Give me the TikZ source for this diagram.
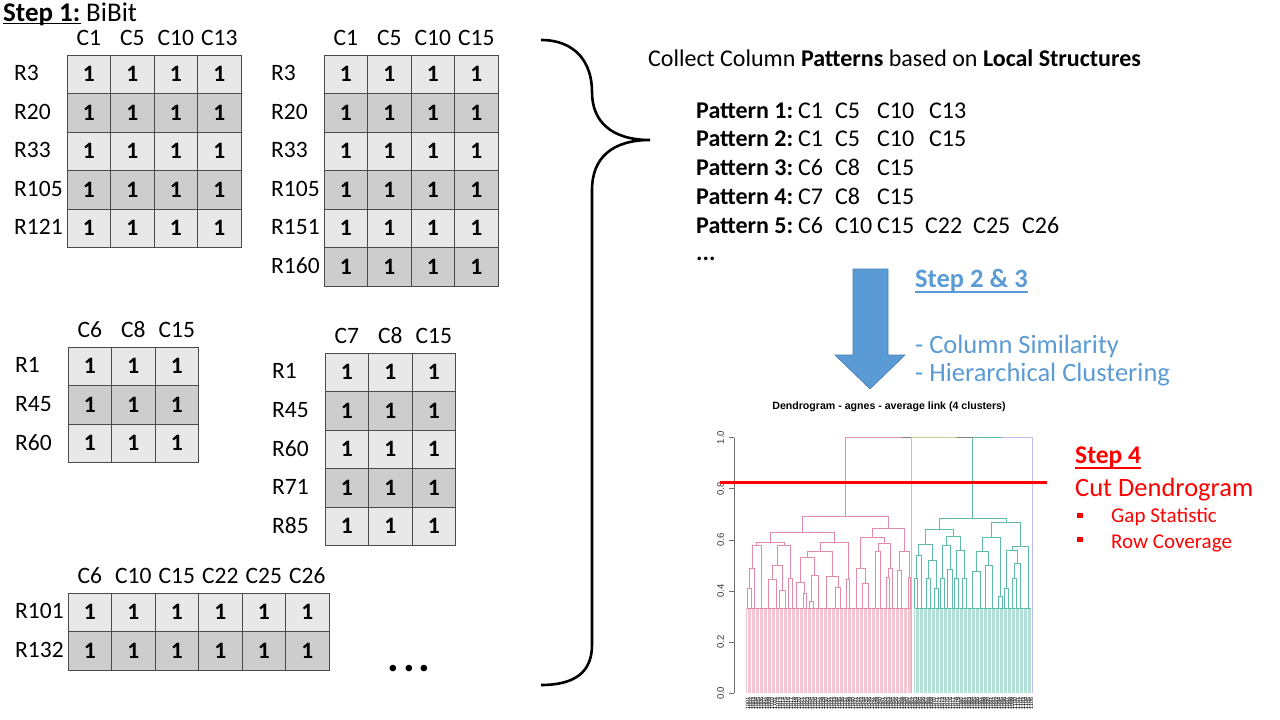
\documentclass[tikz,border=0pt]{standalone}
\usepackage{fontspec}
\setmainfont{Carlito}
\newfontfamily\arialf{Liberation Sans}
\definecolor{cellA}{RGB}{232,232,232}
\definecolor{cellB}{RGB}{205,205,205}
\definecolor{gridc}{RGB}{75,75,75}
\definecolor{stepblue}{RGB}{91,155,213}
\definecolor{arrowedge}{RGB}{70,125,175}
\definecolor{dpink}{RGB}{228,140,165}
\definecolor{lpink}{RGB}{243,198,210}
\definecolor{dteal}{RGB}{95,188,168}
\definecolor{lteal}{RGB}{178,224,214}
\definecolor{dolive}{RGB}{200,200,150}
\definecolor{dlav}{RGB}{195,185,235}
\definecolor{axisg}{RGB}{110,110,110}
\tikzset{
  cell/.style={draw=gridc, line width=0.9pt, minimum width=43.5pt, minimum height=38.5pt, inner sep=0pt, font=\fontsize{23.5}{23.5}\selectfont\bfseries},
  rowlab/.style={anchor=west, inner sep=0pt, font=\fontsize{23.5}{23.5}\selectfont},
  collab/.style={inner sep=0pt, font=\fontsize{23.5}{23.5}\selectfont},
  txt/.style={anchor=base west, inner sep=0pt, font=\fontsize{24}{28}\selectfont},
  bluetxt/.style={anchor=base west, inner sep=0pt, text=stepblue, font=\fontsize{26.5}{30}\selectfont},
  redtxt/.style={anchor=base west, inner sep=0pt, text=red},
  dl/.style={line width=0.6pt},
  ulbar/.style={line width=1.5pt},
}
\newcommand\bitable[6]{%
  \foreach \hh [count=\ci] in {#4}
    \node[collab] (#1-h\ci) at ({#2+(\ci-0.5)*43.5},{#3-17}) {\hh};
  \foreach \rr [count=\ri] in {#5}{
    \ifodd\ri\def\cf{cellA}\else\def\cf{cellB}\fi
    \foreach \c in {1,...,#6}
      \node[cell, fill=\cf] (#1-\ri-\c) at ({#2+(\c-0.5)*43.5},{#3+(\ri-0.5)*38.5}) {1};
    \node[rowlab] (#1-r\ri) at ({#2-53},{#3+(\ri-0.5)*38.5-1}) {\rr};
  }
}
\newcommand\pl[1]{\makebox[102pt][l]{\textbf{#1}}}
\newcommand\pc[2]{\makebox[#1pt][l]{#2}}
\begin{document}
\begin{tikzpicture}[x=1pt,y=-1pt]
\useasboundingbox (0,0) rectangle (1280,720);
% Step 1 heading
\node[anchor=base west, inner sep=0pt, font=\fontsize{27}{27}\selectfont\bfseries] (s1a) at (3,21) {Step 1:};
\draw[ulbar] ([yshift=-2.5pt]s1a.base west) -- ([yshift=-2.5pt]s1a.base east);
\node[anchor=base west, inner sep=0pt, font=\fontsize{27}{27}\selectfont] (s1b) at ([xshift=5.5pt]s1a.base east) {BiBit};
% tables
\bitable{ta}{67}{55}{C1,C5,C10,C13}{R3,R20,R33,R105,R121}{4}
\bitable{tb}{324}{55}{C1,C5,C10,C15}{R3,R20,R33,R105,R151,R160}{4}
\bitable{tc}{68}{347}{C6,C8,C15}{R1,R45,R60}{3}
\bitable{td}{325}{353}{C7,C8,C15}{R1,R45,R60,R71,R85}{3}
\bitable{te}{68}{593}{C6,C10,C15,C22,C25,C26}{R101,R132}{6}
\node[anchor=base, inner sep=0pt, font=\fontsize{44}{44}\selectfont\bfseries] (dots) at (409,671) {.\hspace{4pt}.\hspace{4pt}.};
% brace
\coordinate (bt) at (541,40);
\coordinate (bb) at (541,685);
\coordinate (tip) at (650,140);
\draw[line width=2.6pt] (bt) .. controls (575,40) and (592,62) .. (592,92)
  .. controls (592,122) and (612,140) .. (tip)
  .. controls (612,140) and (592,158) .. (592,190)
  -- (592,645) .. controls (592,672) and (575,685) .. (bb);
% patterns text
\node[txt] (collect) at (648,66) {Collect Column \textbf{Patterns} based on \textbf{Local Structures}};
\node[txt] (p1) at (696,118) {\pl{Pattern 1:}\pc{37}{C1}\pc{42}{C5}\pc{52}{C10}C13};
\node[txt] (p2) at (696,146) {\pl{Pattern 2:}\pc{37}{C1}\pc{42}{C5}\pc{52}{C10}C15};
\node[txt] (p3) at (696,175) {\pl{Pattern 3:}\pc{37}{C6}\pc{42}{C8}C15};
\node[txt] (p4) at (696,204) {\pl{Pattern 4:}\pc{37}{C7}\pc{42}{C8}C15};
\node[txt] (p5) at (696,233) {\pl{Pattern 5:}\pc{37}{C6}\pc{42}{C10}\pc{48}{C15}\pc{48}{C22}\pc{49}{C25}C26};
\node[txt] (p6) at (696,260) {\textbf{...}};
% big arrow
\draw[fill=stepblue, draw=arrowedge, line width=0.6pt] (853,269) -- (888,269) -- (888,355) -- (905,355) -- (870,389) -- (835,355) -- (853,355) -- cycle;
\node[bluetxt, font=\fontsize{26.5}{30}\selectfont\bfseries] (s23) at (915,287) {Step 2 \& 3};
\draw[ulbar, stepblue] ([yshift=-5pt]s23.base west) -- ([yshift=-5pt]s23.base east);
\node[bluetxt] (cs) at (915,353) {- Column Similarity};
\node[bluetxt] (hc) at (915,381) {- Hierarchical Clustering};
% Step 4
\node[redtxt, font=\fontsize{25.5}{28}\selectfont\bfseries] (s4) at (1075,463) {Step 4};
\draw[ulbar, red] ([yshift=-5pt]s4.base west) -- ([yshift=-5pt]s4.base east);
\node[redtxt, font=\fontsize{26.5}{30}\selectfont] (cut) at (1075,496) {Cut Dendrogram};
\node[fill=red, minimum size=5.5pt, inner sep=0pt] (b1) at (1080,515.5) {};
\node[fill=red, minimum size=5.5pt, inner sep=0pt] (b2) at (1080,539.5) {};
\node[redtxt, font=\fontsize{21}{24}\selectfont] (gap) at (1111,522) {Gap Statistic};
\node[redtxt, font=\fontsize{21}{24}\selectfont] (rowc) at (1111,548) {Row Coverage};
% dendrogram title
\node[inner sep=0pt, font=\arialf\bfseries\fontsize{10.6}{11}\selectfont] (dtitle) at (889,407) {Dendrogram - agnes - average link (4 clusters)};
% dendrogram body (zoom coordinates)
\begin{scope}[shift={(690pt,-395pt)}, x={(0.33333pt,0pt)}, y={(0pt,-0.33333pt)}]
  % axis
  \draw[axisg, line width=0.7pt] (133,128) -- (133,895);
  \foreach \lab [count=\k from 0] in {0.0,0.2,0.4,0.6,0.8,1.0}{
    \draw[axisg, line width=0.7pt] (133,{895-\k*153.4}) -- (118,{895-\k*153.4});
    \node[rotate=90, inner sep=0pt, text=black!80, font=\arialf\fontsize{9.5}{10}\selectfont] (ax\k) at (92,{895-\k*153.4}) {\lab};
  }
  % leaves
  \foreach \x in {170,174,...,662} \draw[lpink, line width=0.5pt] (\x,895) -- (\x,640);
  \foreach \x in {674,678,...,1022} \draw[lteal, line width=0.5pt] (\x,895) -- (\x,640);
  \draw[dpink, dl] (170,640) -- (662,640);
  \draw[dteal, dl] (674,640) -- (1022,640);
  % pink merges
  \foreach \a/\b/\c/\d/\e in {337/412/595/400/365, 240/442/432/442/412, 200/450/283/452/442,
     186/519/214/640/450, 178/580/193/640/519, 172/640/184/640/580, 262/510/301/550/452,
     247/553/277/587/510, 236/640/258/640/553, 268/640/286/640/587, 296/640/306/640/550,
     390/470/474/553/442, 353/488/427/545/470, 332/562/374/540/488, 320/640/344/595/562,
     340/640/348/640/595, 364/620/384/640/540, 358/640/370/640/620, 410/640/444/578/545,
     436/640/452/640/578, 470/640/478/640/553, 547/428/643/468/400, 512/520/582/445/428,
     498/640/526/565/520, 518/640/534/640/565, 564/470/600/520/445, 556/640/572/640/470,
     594/548/606/640/520, 590/640/598/640/548, 628/525/658/548/468, 622/640/634/640/525,
     654/640/662/640/548}
    \draw[dpink, dl] (\a,\b) |- (\c,\e) -- (\c,\d);
  % teal merges
  \foreach \a/\b/\c/\d/\e in {748/402/948/383/370, 706/447/790/425/402, 686/480/726/497/447,
     678/550/694/640/480, 674/640/682/640/550, 714/550/738/580/497, 708/640/720/640/550,
     732/640/744/640/580, 768/452/812/465/425, 756/550/780/522/452, 750/640/762/640/550,
     772/640/788/640/522, 800/550/824/550/465, 794/640/806/640/550, 818/640/830/640/550,
     905/428/991/455/383, 878/470/932/605/428, 860/530/896/510/470, 848/640/872/640/530,
     886/640/906/640/510, 926/640/938/640/605, 966/467/1016/640/455, 950/580/982/505/467,
     944/640/956/640/580, 972/550/992/640/505, 966/640/978/640/550}
    \draw[dteal, dl] (\a,\b) |- (\c,\e) -- (\c,\d);
  % top level
  \draw[dpink, dl] (466,365) -- (466,128) -- (635,128);
  \draw[gray, dl] (635,128) -- (665,128);
  \draw[dolive, line width=1pt] (665,895) -- (665,128) -- (800,128);
  \draw[gray, dl] (800,128) -- (848,128);
  \draw[dteal, dl] (848,370) -- (848,128) -- (935,128);
  \draw[dlav, dl] (935,128) -- (1028,128) -- (1028,895);
\end{scope}
% leaf labels
\foreach \i in {1,...,106}
  \node[rotate=90, anchor=east, inner sep=0pt, font=\arialf\fontsize{5.5}{5.5}\selectfont] (lf\i) at ({745+\i*2.7},697) {\the\numexpr1000+\i\relax};
% cut line
\coordinate (cutL) at (720,482);
\coordinate (cutR) at (1047,482);
\draw[red, line width=3pt] (cutL) -- (cutR);
\end{tikzpicture}
\end{document}
